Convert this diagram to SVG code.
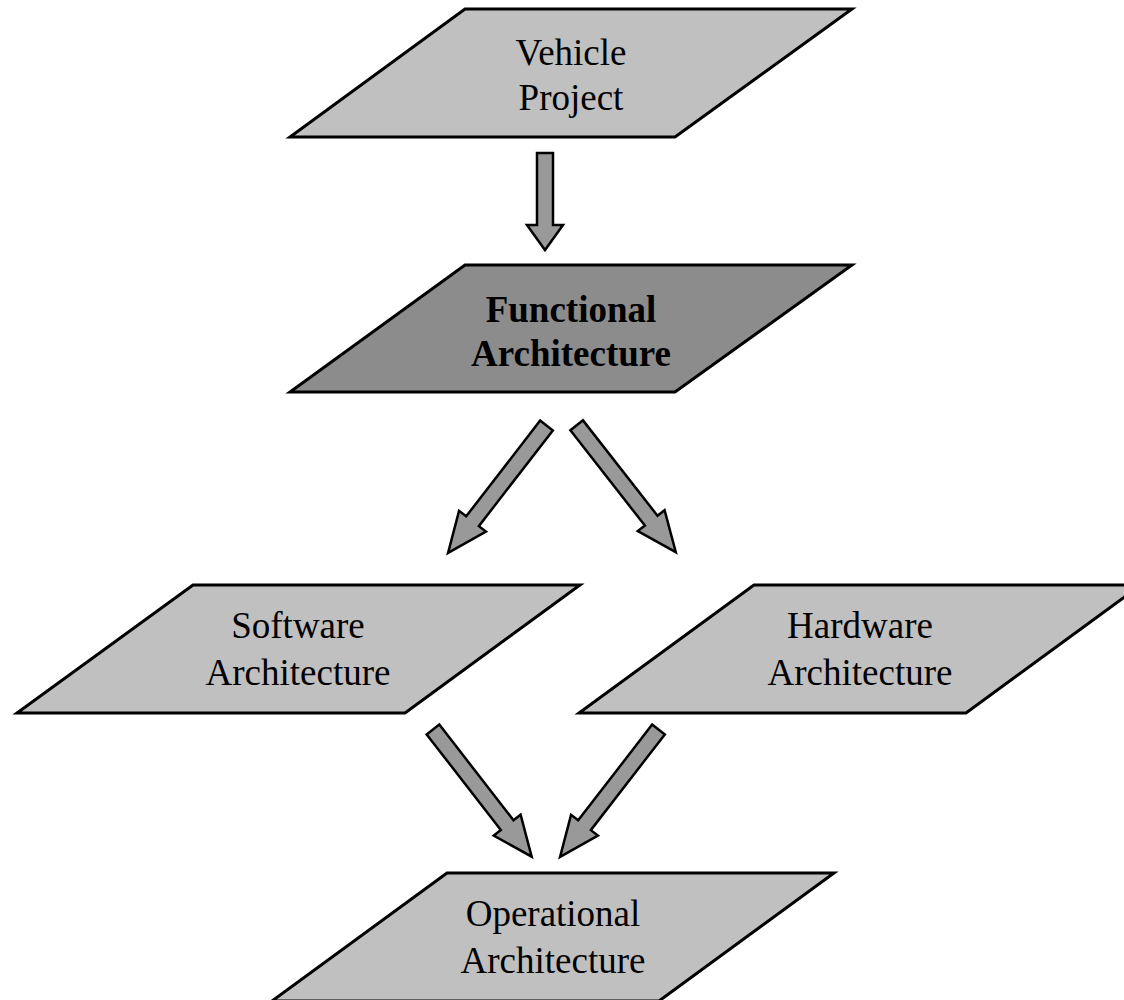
<svg xmlns="http://www.w3.org/2000/svg" width="1124" height="1000" viewBox="0 0 1124 1000">
<style>
.box{fill:#c0c0c0;stroke:#000;stroke-width:3;stroke-linejoin:miter}
.dark{fill:#8c8c8c}
.arrow{fill:#999999;stroke:#000;stroke-width:2.5;stroke-linejoin:miter}
.lbl{font-family:"Liberation Serif","Times New Roman",serif;font-size:37px;fill:#000;text-anchor:middle}
.bold{font-weight:bold}
</style>
<defs>
<polygon id="diag" points="0,-8 121,-8 121,-17 161,0 121,17 121,8 0,8"/>
</defs>
<rect width="1124" height="1000" fill="#fff"/>
<g id="connectors">
<polygon class="arrow" points="537,153 553,153 553,225 563,225 545,250 527,225 537,225"/>
<use href="#diag" class="arrow" transform="translate(546.5,425.5) rotate(127.7)"/>
<use href="#diag" class="arrow" transform="translate(576.7,425.3) rotate(52.0)"/>
<use href="#diag" class="arrow" transform="translate(433,729.5) rotate(52.2)"/>
<use href="#diag" class="arrow" transform="translate(658.5,729.5) rotate(127.7)"/>
</g>
<g id="vehicle">
<polygon class="box" points="465,9 852,9 675,137 290,137"/>
<text class="lbl" x="571" y="65">Vehicle</text>
<text class="lbl" x="571" y="110">Project</text>
</g>
<g id="functional">
<polygon class="box dark" points="465,265 852,265 675,392 290,392"/>
<text class="lbl bold" x="571" y="322">Functional</text>
<text class="lbl bold" x="571" y="366">Architecture</text>
</g>
<g id="software">
<polygon class="box" points="193,585 580,585 405,713 17,713"/>
<text class="lbl" x="298" y="638">Software</text>
<text class="lbl" x="298" y="685">Architecture</text>
</g>
<g id="hardware">
<polygon class="box" points="754,585 1141,585 966,713 579,713"/>
<text class="lbl" x="860" y="638">Hardware</text>
<text class="lbl" x="860" y="685">Architecture</text>
</g>
<g id="operational">
<polygon class="box" points="447,873 834,873 659,1001 272,1001"/>
<text class="lbl" x="553" y="926">Operational</text>
<text class="lbl" x="553" y="973">Architecture</text>
</g>
</svg>
